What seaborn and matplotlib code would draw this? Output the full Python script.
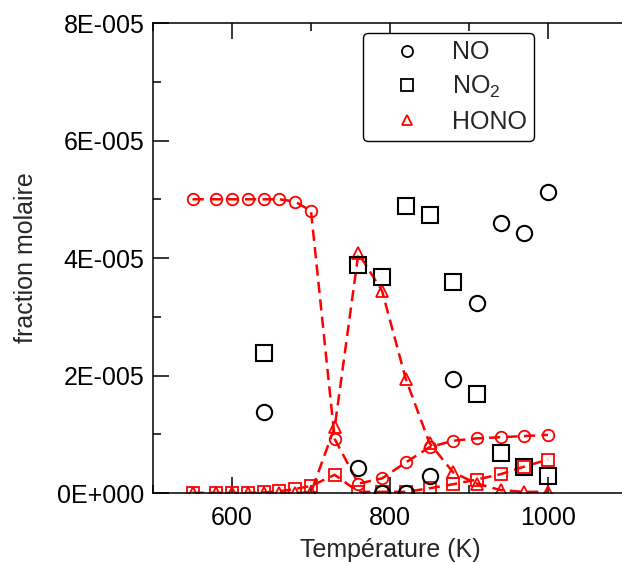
import numpy as np
import pandas as pd
import matplotlib
matplotlib.use('Agg')
import matplotlib.pyplot as plt
from matplotlib.lines import Line2D
from matplotlib.ticker import MultipleLocator
import seaborn as sns

# model (red dashed curves)
model_temp = [550, 580, 600, 620, 640, 660, 680, 700, 730, 760, 790, 820, 850, 880, 910, 940, 970, 1000]
model_no = [5.0, 5.0, 5.0, 5.0, 5.0, 5.0, 4.96, 4.8, 0.92, 0.16, 0.25, 0.52, 0.78, 0.89, 0.93, 0.95, 0.97, 0.99]
model_no2 = [0.0, 0.0, 0.0, 0.0, 0.01, 0.03, 0.07, 0.12, 0.31, 0.02, 0.02, 0.02, 0.08, 0.15, 0.23, 0.32, 0.45, 0.57]
model_hono = [0.0, 0.0, 0.0, 0.0, 0.0, 0.0, 0.0, 0.01, 1.12, 4.08, 3.44, 1.94, 0.85, 0.35, 0.16, 0.05, 0.02, 0.02]

# experiment (black open markers)
exp_temp = [640, 760, 790, 820, 850, 880, 910, 940, 970, 1000]
exp_no = [1.38, 0.43, 0.0, 0.0, 0.29, 1.94, 3.23, 4.59, 4.43, 5.13]
exp_no2 = [2.39, 3.88, 3.67, 4.89, 4.73, 3.59, 1.68, 0.68, 0.44, 0.29]

scale = 1e-5
ytick_vals = [0, 2e-5, 4e-5, 6e-5, 8e-5]
ytick_labels = ['0E+000', '2E-005', '4E-005', '6E-005', '8E-005']
xtick_vals = [600, 800, 1000]
legend_labels = ['NO', 'NO$_2$', 'HONO']

sns.set_style('white')
plt.rcParams['font.family'] = ['Liberation Sans', 'DejaVu Sans']
plt.rcParams['mathtext.fontset'] = 'custom'
plt.rcParams['mathtext.rm'] = 'Liberation Sans'

RED = '#ff0000'
FS = 18

fig = plt.figure(figsize=(6.22, 5.63), dpi=100)
ax = fig.add_axes([153 / 622, 0.1243, 474 / 622, 0.8348])

mdf = pd.DataFrame({'T': model_temp,
                    'NO': np.array(model_no) * scale,
                    'NO2': np.array(model_no2) * scale,
                    'HONO': np.array(model_hono) * scale})
edf = pd.DataFrame({'T': exp_temp,
                    'NO': np.array(exp_no) * scale,
                    'NO2': np.array(exp_no2) * scale})

line_kw = dict(color=RED, linestyle=(0, (4.5, 2.5)), linewidth=1.8, markersize=8.3,
               markerfacecolor='none', markeredgecolor=RED, markeredgewidth=1.3)
for col, mk in [('NO', 'o'), ('NO2', 's'), ('HONO', '^')]:
    sns.lineplot(data=mdf, x='T', y=col, marker=mk, ax=ax, **line_kw)

pt_kw = dict(color='black', linestyle='', markersize=11, markerfacecolor='none',
             markeredgecolor='black', markeredgewidth=1.5)
for col, mk in [('NO', 'o'), ('NO2', 's')]:
    sns.lineplot(data=edf, x='T', y=col, marker=mk, ax=ax, **pt_kw)

ax.set_xlim(500, 1100)
ax.set_ylim(0, 8e-5)
ax.set_xticks(xtick_vals)
ax.set_xticklabels([str(v) for v in xtick_vals])
ax.xaxis.set_minor_locator(MultipleLocator(100))
ax.set_yticks(ytick_vals)
ax.set_yticklabels(ytick_labels)
ax.yaxis.set_minor_locator(MultipleLocator(1e-5))

ax.tick_params(which='both', direction='in', top=True, bottom=True, left=True, right=False,
               labelsize=FS, colors='black', width=1.1)
ax.tick_params(which='major', length=11.5)
ax.tick_params(which='minor', length=5.8)
ax.tick_params(axis='x', pad=9)
ax.tick_params(axis='y', pad=6)
for s in ax.spines.values():
    s.set_linewidth(1.1)
    s.set_color('black')

ax.set_xlabel('Température (K)', fontsize=FS, labelpad=6)
ax.set_ylabel('fraction molaire', fontsize=FS, labelpad=14)

handles = [
    Line2D([], [], marker='o', linestyle='', markersize=8, markerfacecolor='none',
           markeredgecolor='black', markeredgewidth=1.3),
    Line2D([], [], marker='s', linestyle='', markersize=8.4, markerfacecolor='none',
           markeredgecolor='black', markeredgewidth=1.3),
    Line2D([], [], marker='^', linestyle='', markersize=7.7, markerfacecolor='none',
           markeredgecolor=RED, markeredgewidth=1.3),
]
leg = ax.legend(handles, legend_labels, loc='upper left', bbox_to_anchor=(0.443, 0.979),
                fontsize=FS, frameon=True, fancybox=True, edgecolor='black',
                labelspacing=0.38, handletextpad=0.35, borderpad=0.3, handlelength=2.9,
                borderaxespad=0)
leg.get_frame().set_linewidth(1.0)
leg.get_frame().set_alpha(1)

fig.savefig('out.png', dpi=100)
